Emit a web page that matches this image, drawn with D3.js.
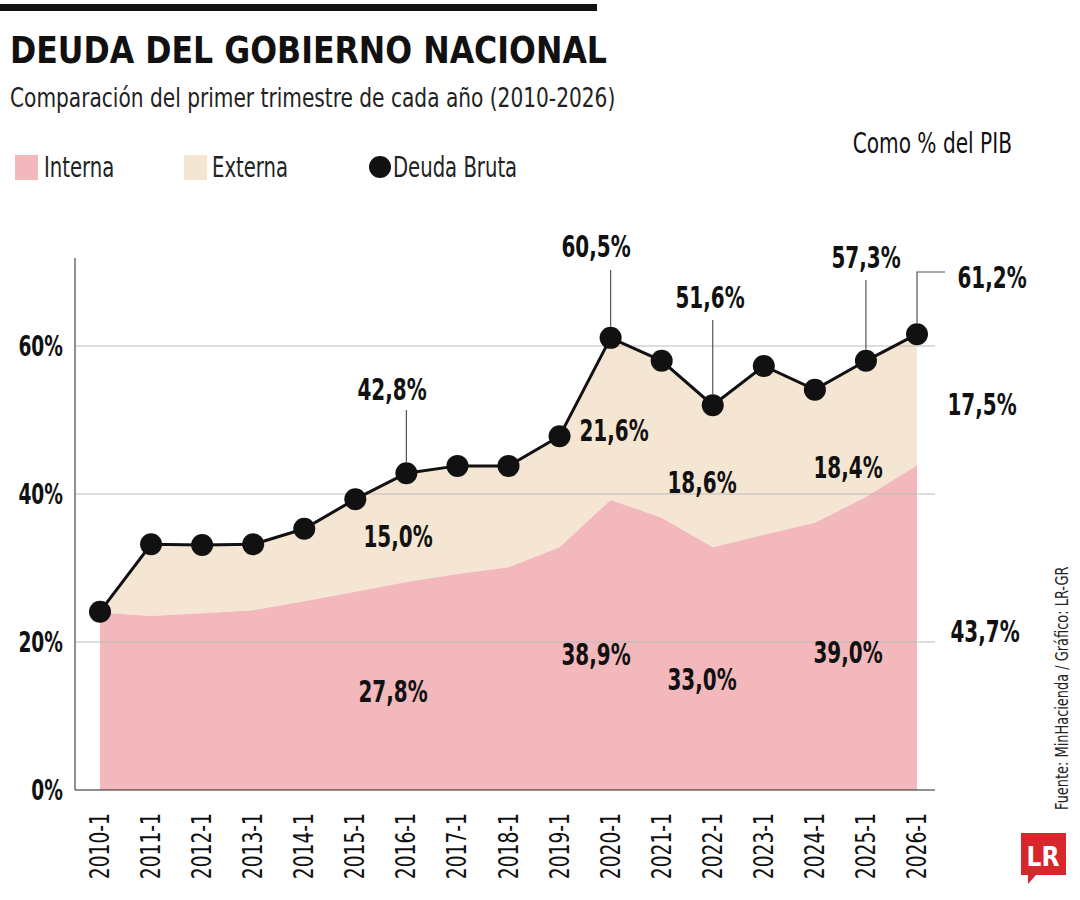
<!doctype html>
<html>
<head>
<meta charset="UTF-8">
<script src="https://d3js.org/d3.v7.min.js"></script>
<style>
body{margin:0;background:#fff;}
text{font-family:"DejaVu Sans Condensed","Liberation Sans Narrow",sans-serif;}
</style>
</head>
<body>
<svg id="c" width="1080" height="900"></svg>
<script>
var years = ["2010-1","2011-1","2012-1","2013-1","2014-1","2015-1","2016-1","2017-1","2018-1","2019-1","2020-1","2021-1","2022-1","2023-1","2024-1","2025-1","2026-1"];
var interna = [24.0,23.5,23.9,24.3,25.5,26.8,28.1,29.2,30.1,32.8,39.2,36.8,32.8,34.5,36.1,39.6,43.9];
var externa = [0.1,9.7,9.2,8.9,9.8,12.5,14.7,14.6,13.7,15.0,21.9,21.2,19.2,22.8,18.0,18.4,17.7];
var yTicks = [0,20,40,60];
// etiquetas: texto, x, y
var labels = [
  ["42,8%",392,390],["60,5%",596,247],["51,6%",710,298],["57,3%",866,258],["61,2%",992,278],
  ["15,0%",398,537],["27,8%",393,692],["21,6%",614,431],["38,9%",596,655],
  ["18,6%",702,483],["33,0%",702,680],["18,4%",848,468],["39,0%",848,653],
  ["17,5%",982,405],["43,7%",985,632]
];

var svg = d3.select("#c");
var x = d3.scalePoint().domain(years).range([100,917]);
var y = d3.scaleLinear().domain([0,60]).range([790,346]);
var bruta = interna.map(function(d,i){return d+externa[i];});
var SX = 0.74;

// texto estrecho
function txt(px,py,size,s,opts){
  opts = opts || {};
  var t = svg.append("text")
    .attr("transform","translate("+px+","+py+")"+(opts.rot?" rotate("+opts.rot+")":"")+" scale("+(opts.sx||SX)+",1)")
    .attr("font-size",size).attr("fill",opts.fill||"#111").text(s);
  if(opts.bold) t.attr("font-weight","bold");
  if(opts.anchor) t.attr("text-anchor",opts.anchor);
  return t;
}

svg.append("rect").attr("x",0).attr("y",4).attr("width",597).attr("height",7).attr("fill","#111");
txt(10,63,37,"DEUDA DEL GOBIERNO NACIONAL",{bold:true,sx:0.95});
txt(10,107,27,"Comparación del primer trimestre de cada año (2010-2026)",{fill:"#222",sx:0.83});
txt(1012,153,28,"Como % del PIB",{anchor:"end",sx:0.8});

svg.append("rect").attr("x",15).attr("y",155).attr("width",23).attr("height",25).attr("fill","#f2b8bc");
txt(44,177,28,"Interna",{fill:"#222",sx:0.78});
svg.append("rect").attr("x",184).attr("y",155).attr("width",23).attr("height",25).attr("fill","#f5e6d3");
txt(212,177,28,"Externa",{fill:"#222",sx:0.78});
svg.append("circle").attr("cx",380).attr("cy",167).attr("r",11).attr("fill","#111");
txt(393,177,28,"Deuda Bruta",{fill:"#222",sx:0.78});

svg.append("path").datum(bruta).attr("fill","#f5e6d3")
  .attr("d", d3.area().x(function(d,i){return x(years[i]);}).y0(function(d,i){return y(interna[i]);}).y1(function(d){return y(d);}));
svg.append("path").datum(interna).attr("fill","#f2b8bc")
  .attr("d", d3.area().x(function(d,i){return x(years[i]);}).y0(y(0)).y1(function(d){return y(d);}));

svg.selectAll(".grid").data(yTicks.slice(1)).enter().append("line")
  .attr("x1",75).attr("x2",935).attr("y1",function(d){return y(d);}).attr("y2",function(d){return y(d);})
  .attr("stroke","#bbb").attr("stroke-width",1);
svg.append("line").attr("x1",75).attr("x2",75).attr("y1",258).attr("y2",790).attr("stroke","#222");
svg.append("line").attr("x1",75).attr("x2",935).attr("y1",790).attr("y2",790).attr("stroke","#222");
yTicks.forEach(function(d){ txt(63,y(d)+10,28,d+"%",{bold:true,anchor:"end"}); });
years.forEach(function(d){ txt(x(d)+9,813,26,d,{anchor:"end",rot:-90,sx:0.8}); });

svg.append("path").datum(bruta).attr("fill","none").attr("stroke","#111").attr("stroke-width",3)
  .attr("d", d3.line().x(function(d,i){return x(years[i]);}).y(function(d){return y(d);}));
svg.selectAll(".dot").data(bruta).enter().append("circle")
  .attr("cx",function(d,i){return x(years[i]);}).attr("cy",function(d){return y(d);})
  .attr("r",11).attr("fill","#111");

// lineas de llamada
var leaders = [[6,410],[10,270],[12,320],[15,280]];
leaders.forEach(function(l){
  var i=l[0];
  svg.append("line").attr("x1",x(years[i])).attr("x2",x(years[i])).attr("y1",l[1]).attr("y2",y(bruta[i])-11)
    .attr("stroke","#555").attr("stroke-width",1.2);
});
svg.append("polyline").attr("points",[x(years[16]),y(bruta[16])-11,x(years[16]),272,945,272].join(","))
  .attr("fill","none").attr("stroke","#555").attr("stroke-width",1.2);

labels.forEach(function(d){ txt(d[1],d[2]+10,30,d[0],{bold:true,anchor:"middle"}); });

txt(1068,810,18,"Fuente: MinHacienda / Gráfico: LR-GR",{rot:-90,fill:"#222",sx:0.8});
svg.append("path").attr("d","M1021,833 H1066 V875 H1036 L1028,884 V875 H1021 Z").attr("fill","#d7262c");
svg.append("text").attr("x",1043).attr("y",866).attr("text-anchor","middle").attr("font-size",26)
  .attr("font-weight","bold").attr("font-family","Liberation Serif, serif").attr("fill","#fff").text("LR");
</script>
</body>
</html>
